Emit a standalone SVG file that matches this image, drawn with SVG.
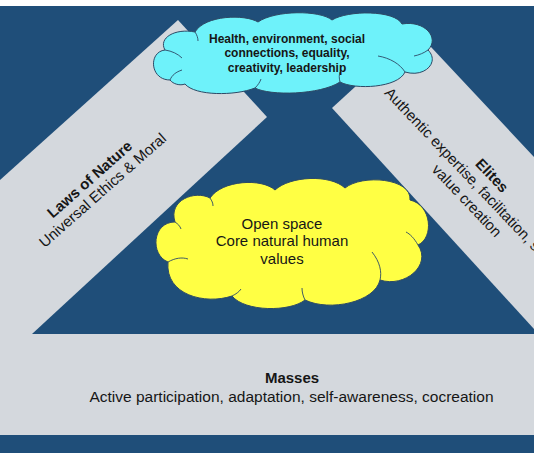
<svg xmlns="http://www.w3.org/2000/svg" width="534" height="462" viewBox="0 0 534 462">
  <style>
    .band { fill: #d4d8dd; }
    .t { font-family: "Liberation Sans", Arial, sans-serif; fill: #161616; }
    .b { font-weight: bold; }
    .cloud { stroke: #2d4a66; stroke-width: 1; }
    .arc { fill: none; stroke: #2d4a66; stroke-width: 0.9; }
  </style>
  <rect x="0" y="0" width="534" height="462" fill="#ffffff"/>
  <rect x="0" y="6" width="534" height="447" fill="#1f4e79"/>

  <g id="laws-of-nature">
    <polygon class="band" points="178,20 267,117 32,334 0,334 0,180"/>
    <g transform="translate(96,185) rotate(-41.5)">
      <text class="t b" x="-1" y="-3.3" font-size="15" text-anchor="middle">Laws of Nature</text>
      <text class="t" x="1.5" y="13.4" font-size="15" text-anchor="middle">Universal Ethics &amp; Moral</text>
    </g>
  </g>

  <g id="elites">
    <polygon class="band" points="332,108 416,31 534,157 534,329"/>
    <g transform="translate(480,187) rotate(46.5)">
      <text class="t b" x="0" y="-11.5" font-size="15" text-anchor="middle">Elites</text>
      <text class="t" x="-134" y="5.5" font-size="15">Authentic expertise, facilitation, s</text>
      <text class="t" x="0.8" y="24" font-size="15" text-anchor="middle">value creation</text>
    </g>
  </g>

  <g id="masses">
    <rect class="band" x="0" y="334" width="534" height="101"/>
    <text class="t b" x="292" y="383" font-size="15" text-anchor="middle">Masses</text>
    <text class="t" x="291.5" y="401.5" font-size="15.5" text-anchor="middle">Active participation, adaptation, self-awareness, cocreation</text>
  </g>

  <g id="open-space">
    <path class="cloud" fill="#ffff44" d="M 168,262 C 150,255 152,222 175,222 C 168,200 195,190 210,198 C 222,180 262,178 275,190 C 290,176 330,174 345,188 C 362,174 412,178 410,200 C 432,205 434,238 418,245 C 432,265 405,288 380,280 C 375,302 330,312 305,300 C 290,312 245,312 232,296 C 205,305 165,295 168,262 Z"/>
    <path class="arc" d="M 168,262 C 175,258 182,257 188,259"/>
    <path class="arc" d="M 175,222 C 178,224 180,226 181,229"/>
    <path class="arc" d="M 210,198 C 212,201 213,203 213,206"/>
    <path class="arc" d="M 418,245 C 414,238 410,234 406,232"/>
    <path class="arc" d="M 380,280 C 382,272 380,262 372,252"/>
    <path class="arc" d="M 305,300 C 303,296 302,292 302,288"/>
    <path class="arc" d="M 232,296 C 236,294 239,292 241,289"/>
    <text class="t" x="282" y="229" font-size="15" text-anchor="middle">Open space</text>
    <text class="t" x="282" y="246" font-size="15" text-anchor="middle">Core natural human</text>
    <text class="t" x="282" y="263.5" font-size="15" text-anchor="middle">values</text>
  </g>

  <g id="values-cloud">
    <path class="cloud" fill="#6ef2fa" d="M 170,80 C 150,80 148,52 165,50 C 158,38 175,28 195,32 C 205,15 245,14 258,22 C 275,10 320,10 332,20 C 348,10 395,10 402,24 C 425,20 440,38 428,50 C 440,62 425,78 405,72 C 398,88 355,90 340,82 C 320,95 270,96 255,88 C 235,96 195,96 185,84 C 180,86 173,84 170,80 Z"/>
    <path class="arc" d="M 165,50 C 172,51 178,54 182,58"/>
    <path class="arc" d="M 170,80 C 172,75 176,72 182,70"/>
    <path class="arc" d="M 195,32 C 197,35 198,38 198,41"/>
    <path class="arc" d="M 428,50 C 424,53 419,55 414,56"/>
    <path class="arc" d="M 405,72 C 400,64 390,58 378,56"/>
    <path class="arc" d="M 340,82 C 339,78 339,75 340,72"/>
    <path class="arc" d="M 255,88 C 258,85 260,82 261,79"/>
    <text class="t b" x="287" y="42.5" font-size="12" text-anchor="middle">Health, environment, social</text>
    <text class="t b" x="287" y="57" font-size="12" text-anchor="middle">connections, equality,</text>
    <text class="t b" x="287" y="71.5" font-size="12" text-anchor="middle">creativity, leadership</text>
  </g>
</svg>
